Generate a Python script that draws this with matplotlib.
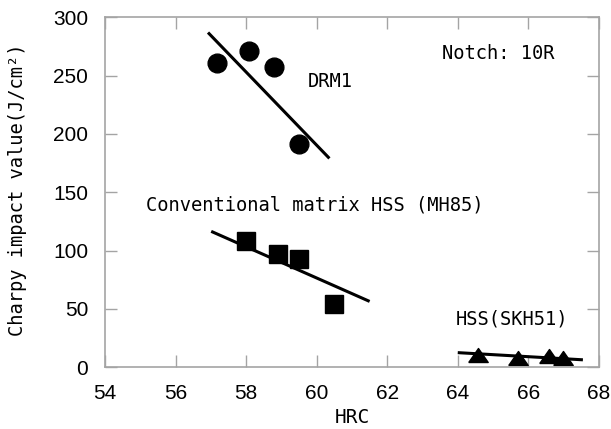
import matplotlib
matplotlib.use("Agg")
import matplotlib.pyplot as plt
import numpy as np

# DRM1
drm_hrc = [57.18, 58.09, 58.79, 59.49]
drm_val = [261, 271, 257, 191]
drm_fit_hrc = [56.95, 60.33]
drm_fit_val = [286, 180]

# conventional matrix HSS (MH85)
mh_hrc = [58.01, 58.91, 59.50, 60.50]
mh_val = [108, 97, 93, 54]
mh_fit_hrc = [57.05, 61.46]
mh_fit_val = [116, 57]

# HSS (SKH51)
skh_hrc = [64.58, 65.69, 66.58, 66.98]
skh_val = [10.8, 8.4, 9.5, 8.0]
skh_fit_hrc = [64.04, 67.5]
skh_fit_val = [12.5, 6.5]

xticks = [54, 56, 58, 60, 62, 64, 66, 68]
yticks = [0, 50, 100, 150, 200, 250, 300]

mono = "DejaVu Sans Mono"
grey = "#a4a4a4"
flat_tri = [(-1, -0.72), (1, -0.72), (0, 0.72), (-1, -0.72)]

fig = plt.figure(figsize=(6.11, 4.29), dpi=100)
ax = fig.add_axes([0.1718, 0.1438, 0.8086, 0.8159])

ax.plot(drm_fit_hrc, drm_fit_val, color="black", lw=2.2)
ax.plot(drm_hrc, drm_val, "o", color="black", ms=13.5, ls="none")
ax.plot(mh_fit_hrc, mh_fit_val, color="black", lw=2.2)
ax.plot(mh_hrc, mh_val, "s", color="black", ms=13.5, ls="none")
ax.plot(skh_fit_hrc, skh_fit_val, color="black", lw=2.2)
ax.plot(skh_hrc, skh_val, marker=flat_tri, color="black", ms=14, ls="none")

ax.text(59.75, 245, "DRM1", family=mono, fontsize=13.5, va="center")
ax.text(63.55, 269, "Notch: 10R", family=mono, fontsize=13.5, va="center")
ax.text(55.16, 139, "Conventional matrix HSS (MH85)", family=mono,
        fontsize=13.5, va="center")
ax.text(63.94, 41, "HSS(SKH51)", family=mono, fontsize=13.5, va="center")

ax.set_xlim(54, 68)
ax.set_ylim(0, 300)
ax.set_xticks(xticks)
ax.set_yticks(yticks)
ax.tick_params(direction="in", length=8.5, width=1.0, color=grey,
               top=True, right=True, labelsize=15)
ax.tick_params(axis="x", pad=12)
ax.tick_params(axis="y", pad=12)
for lab in ax.get_xticklabels() + ax.get_yticklabels():
    lab.set_family("Liberation Sans")
for s in ax.spines.values():
    s.set_color(grey)
    s.set_linewidth(1.2)

ax.set_xlabel("HRC", family=mono, fontsize=14)
ax.set_ylabel("Charpy impact value(J/cm²)", family=mono, fontsize=13.5)
ax.xaxis.set_label_coords(0.5, -0.116)
ax.yaxis.set_label_coords(-0.158, 0.507)

fig.savefig("out.png", dpi=100)
